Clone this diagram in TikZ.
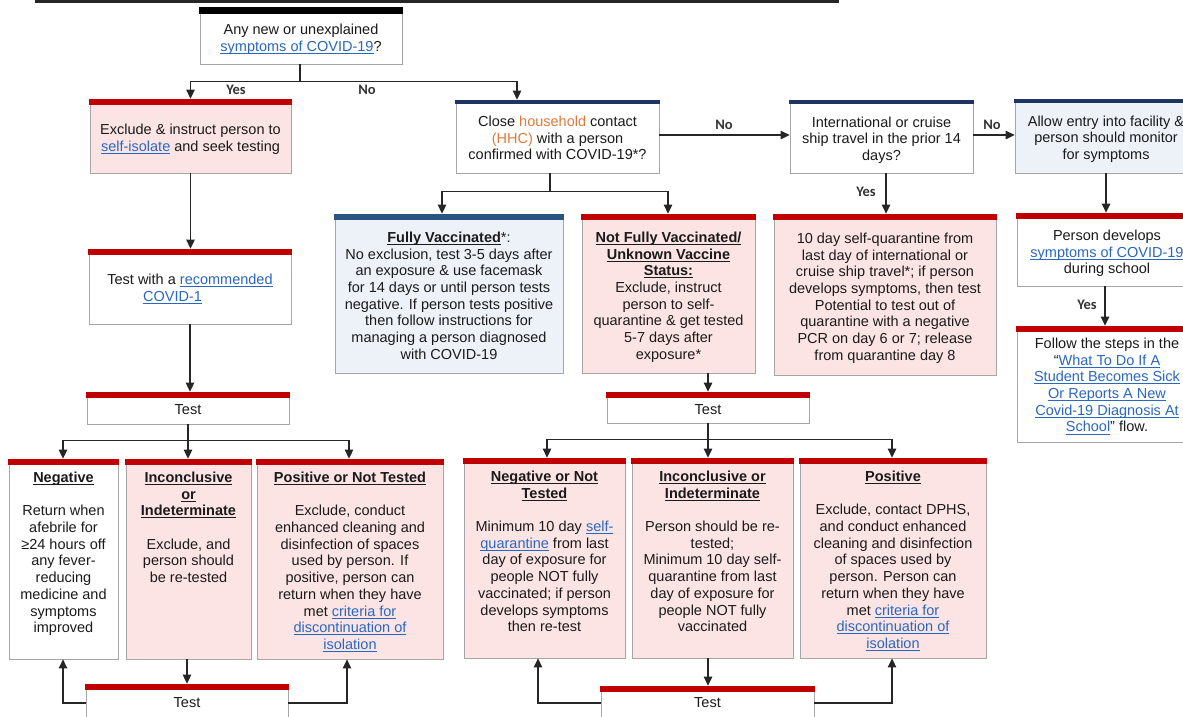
\documentclass[tikz,border=0pt]{standalone}
\usepackage{fontspec}
\setmainfont{Liberation Sans}
\newfontfamily\lblfont{Carlito}
\usetikzlibrary{arrows.meta}
\definecolor{barred}{HTML}{C00000}
\definecolor{barnavy}{HTML}{1F3462}
\definecolor{barsteel}{HTML}{2A5580}
\definecolor{pinkc}{HTML}{FCE4E4}
\definecolor{bluec}{HTML}{EDF2F9}
\definecolor{bordc}{HTML}{A6A6A6}
\definecolor{linkc}{HTML}{2A67C0}
\definecolor{orangec}{HTML}{DE7B3C}
\definecolor{linec}{HTML}{262626}
\definecolor{txt}{HTML}{1A1A1A}
\newsavebox\myulbox
\newcommand\myul[1]{\sbox\myulbox{#1}\leavevmode\rlap{\rule[-2.6pt]{\wd\myulbox}{1pt}}\usebox\myulbox}
\newcommand\mylink[1]{{\color{linkc}\myul{#1}}}
\newcommand\tbu[1]{\textbf{\myul{#1}}}
\newcommand\bxt[4]{\parbox[c][#2pt][t]{#1pt}{\centering\vspace*{#3pt}\strut#4\par}}
\tikzset{
  bx/.style={draw=bordc, line width=0.8pt, inner sep=0pt, font=\fontsize{14.5}{16.7}\selectfont, text=txt},
  pk/.style={bx, fill=pinkc},
  wh/.style={bx, fill=white},
  bl/.style={bx, fill=bluec},
  lbl/.style={font=\lblfont\bfseries\fontsize{14.5}{16}\selectfont, text=black!80, inner sep=1pt},
  ln/.style={draw=linec, line width=1.3pt},
  arr/.style={ln, -{Triangle[length=9pt,width=8.5pt]}},
}
\begin{document}
\begin{tikzpicture}[x=1pt,y=-1pt]
\useasboundingbox (0,0) rectangle (1183,716);
\fill[white] (0,0) rectangle (1183,716);
\clip (0,0) rectangle (1183,716);
\draw[line width=2.2pt, black!85] (35,1.5) -- (839,1.5);

% row 1
\node[wh] (q1) at (301,35.5) {\bxt{202}{57}{15.7}{Any new or unexplained\\\mylink{symptoms of COVID-19}?}};
\node[pk] (excl) at (190.5,136) {\bxt{201}{74}{23.7}{Exclude \& instruct person to\\\mylink{self-isolate} and seek testing}};
\node[wh] (hhc) at (557.5,136.5) {\bxt{203}{73}{14.7}{Close {\color{orangec}household} contact\\{\color{orangec}(HHC)} with a person\\confirmed with COVID-19*?}};
\node[wh] (intl) at (881.5,136.5) {\bxt{183}{73}{15.5}{International or cruise\\ship travel in the prior 14\\days?}};
\node[bl] (allow) at (1106,136) {\bxt{182}{74}{15.5}{Allow entry into facility \&\\person should monitor\\for symptoms}};

% row 2
\node[bl] (fv) at (449,293.5) {\bxt{228}{159}{16.7}{\tbu{Fully Vaccinated}*:\\No exclusion, test 3-5 days after\\an exposure \& use facemask\\for 14 days or until person tests\\negative. If person tests positive\\then follow instructions for\\managing a person diagnosed\\with COVID-19}};
\node[pk] (nfv) at (668.5,293.5) {\bxt{173}{159}{16.7}{\tbu{Not Fully Vaccinated/}\\\tbu{Unknown Vaccine}\\\tbu{Status:}\\Exclude, instruct\\person to self-\\quarantine \& get tested\\5-7 days after\\exposure*}};
\node[pk] (tenday) at (885,294.5) {\bxt{222}{161}{17.7}{10 day self-quarantine from\\last day of international or\\cruise ship travel*; if person\\develops symptoms, then test\\Potential to test out of\\quarantine with a negative\\PCR on day 6 or 7; release\\from quarantine day 8}};
\node[wh] (pdev) at (1107,249.5) {\bxt{180}{73}{15.7}{Person develops\\\mylink{symptoms of COVID-19}\\during school}};
\node[wh] (follow) at (1107,384) {\bxt{180}{116}{10.7}{Follow the steps in the\\“\mylink{What To Do If A}\\\mylink{Student Becomes Sick}\\\mylink{Or Reports A New}\\\mylink{Covid-19 Diagnosis At}\\\mylink{School}” flow.}};
\node[wh] (testrec) at (190,286.5) {\bxt{202}{75}{23.7}{Test with a \mylink{recommended}\\\mylink{COVID-1}\hspace*{35pt}}};

% left tests
\node[wh] (testL) at (188,408) {\bxt{202}{32}{10.7}{Test}};
\node[wh] (neg) at (63.5,559) {\bxt{109}{200}{11.7}{\tbu{Negative}\\[16.7pt]Return when\\afebrile for\\≥24 hours off\\any fever-\\reducing\\medicine and\\symptoms\\improved}};
\node[pk] (inc) at (188.5,559) {\bxt{125}{200}{11.7}{\tbu{Inconclusive}\\\tbu{or}\\\tbu{Indeterminate}\\[16.7pt]Exclude, and\\person should\\be re-tested}};
\node[pk] (pos) at (350,559) {\bxt{186}{200}{11.7}{\tbu{Positive or Not Tested}\\[16.7pt]Exclude, conduct\\enhanced cleaning and\\disinfection of spaces\\used by person. If\\positive, person can\\return when they have\\met \mylink{criteria for}\\\mylink{discontinuation of}\\\mylink{isolation}}};
\node[wh] (testLB) at (187,712) {\bxt{202}{56}{11.7}{Test}};

% middle tests
\node[wh] (testM) at (708,407.5) {\bxt{202}{31}{10.7}{Test}};
\node[pk] (negM) at (544.5,558) {\bxt{161}{200}{11.7}{\tbu{Negative or Not}\\\tbu{Tested}\\[16.7pt]Minimum 10 day \mylink{self-}\\\mylink{quarantine} from last\\day of exposure for\\people NOT fully\\vaccinated; if person\\develops symptoms\\then re-test}};
\node[pk] (incM) at (712.5,558) {\bxt{161}{200}{11.7}{\tbu{Inconclusive or}\\\tbu{Indeterminate}\\[16.7pt]Person should be re-\\tested;\\Minimum 10 day self-\\quarantine from last\\day of exposure for\\people NOT fully\\vaccinated}};
\node[pk] (posM) at (893,558) {\bxt{186}{200}{11.7}{\tbu{Positive}\\[16.7pt]Exclude, contact DPHS,\\and conduct enhanced\\cleaning and disinfection\\of spaces used by\\person. Person can\\return when they have\\met \mylink{criteria for}\\\mylink{discontinuation of}\\\mylink{isolation}}};
\node[wh] (testMB) at (707.5,713) {\bxt{213}{54}{9.7}{Test}};

% bars
\fill[black] ([xshift=-0.5pt]q1.north west) rectangle ([xshift=0.5pt,yshift=-7pt]q1.north east);
\foreach \n in {excl,testrec,testL,neg,inc,pos,testLB,nfv,tenday,pdev,follow,testM,negM,incM,posM,testMB}
  \fill[barred] ([xshift=-0.5pt]\n.north west) rectangle ([xshift=0.5pt,yshift=-6pt]\n.north east);
\foreach \n in {hhc,intl,allow}
  \fill[barnavy] ([xshift=-0.5pt]\n.north west) rectangle ([xshift=0.5pt,yshift=-4.5pt]\n.north east);
\fill[barsteel] ([xshift=-0.5pt]fv.north west) rectangle ([xshift=0.5pt,yshift=-6pt]fv.north east);

% connectors
\draw[arr] (q1.south -| 300,0) -- ++(0,17) -| (excl.north);
\draw[arr] (q1.south -| 300,0) -- ++(0,17) -| (hhc.north -| 517,0);
\node[lbl] (lyes1) at (236,90) {Yes};
\node[lbl] (lno1) at (367,90) {No};
\draw[arr] (hhc.east |- 0,135) -- (intl.west |- 0,135);
\node[lbl] (lno2) at (724,125) {No};
\draw[arr] (intl.east |- 0,135) -- (allow.west |- 0,135);
\node[lbl] (lno3) at (992,125) {No};
\draw[arr] (hhc.south -| 550,0) -- ++(0,18) -| (fv.north -| 442,0);
\draw[arr] (hhc.south -| 550,0) -- ++(0,18) -| (nfv.north -| 668,0);
\draw[arr] (intl.south -| 886,0) -- (tenday.north -| 886,0);
\node[lbl] (lyes2) at (866,192) {Yes};
\draw[arr] (allow.south -| 1106,0) -- (pdev.north -| 1106,0);
\draw[arr] (pdev.south -| 1105,0) -- (follow.north -| 1105,0);
\node[lbl] (lyes3) at (1087,305) {Yes};

\draw[arr] (excl.south) -- (testrec.north -| excl.south);
\draw[arr] (testrec.south) -- (testL.north -| testrec.south);
\draw[arr] (testL.south) -- ++(0,16) -| (neg.north -| 63,0);
\draw[arr] (testL.south) -- (inc.north -| testL.south);
\draw[arr] (testL.south) -- ++(0,16) -| (pos.north -| 349,0);
\draw[arr] (inc.south -| testLB.north) -- (testLB.north);
\draw[arr] (testLB.west |- 0,703) -| (neg.south -| 63,0);
\draw[arr] (testLB.east |- 0,703) -| (pos.south -| 347,0);

\draw[arr] (nfv.south -| 708,0) -- (testM.north -| 708,0);
\draw[arr] (testM.south) -- ++(0,16) -| (negM.north -| 547,0);
\draw[arr] (testM.south) -- (incM.north -| testM.south);
\draw[arr] (testM.south) -- ++(0,16) -| (posM.north -| 892,0);
\draw[arr] (incM.south -| 708,0) -- (testMB.north -| 708,0);
\draw[arr] (testMB.west |- 0,703) -| (negM.south -| 538,0);
\draw[arr] (testMB.east |- 0,703) -| (posM.south -| 892,0);
\end{tikzpicture}
\end{document}
